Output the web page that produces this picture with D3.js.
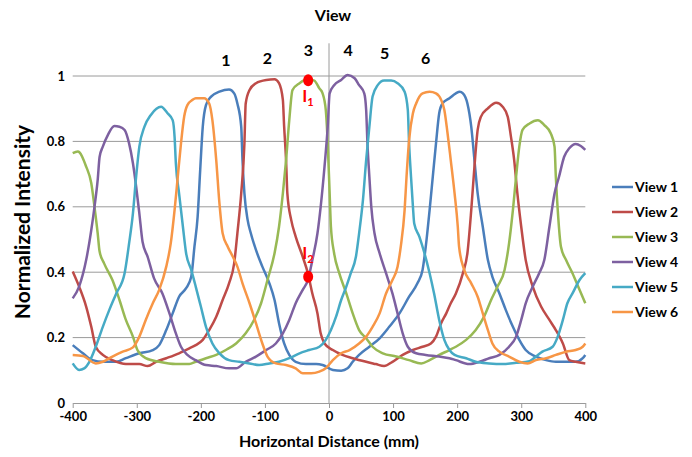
<!DOCTYPE html>
<html>
<head>
<meta charset="utf-8">
<script src="https://cdn.jsdelivr.net/npm/d3@7"></script>
<style>
  body { margin: 0; background: #fff; }
  text { font-family: Lato, 'Open Sans', sans-serif; font-weight: bold; }
</style>
</head>
<body>
<div id="chart"></div>
<script>
// [distance (mm), normalized intensity]
const view1 = [[-400,0.177],[-384,0.152],[-369,0.131],[-353,0.126],[-332,0.126],[-317,0.137],[-296,0.152],[-275,0.162],[-265,0.177],[-254,0.223],[-244,0.274],[-234,0.325],[-223,0.351],[-215,0.386],[-210,0.478],[-205,0.57],[-201,0.713],[-197,0.845],[-192,0.911],[-184,0.937],[-171,0.952],[-156,0.959],[-148,0.947],[-143,0.916],[-137,0.845],[-135,0.743],[-132,0.641],[-127,0.56],[-122,0.519],[-114,0.468],[-104,0.417],[-93,0.366],[-85,0.315],[-78,0.244],[-70,0.182],[-62,0.147],[-52,0.126],[-36,0.119],[-20,0.119],[-10,0.116],[6,0.101],[19,0.099],[29,0.106],[37,0.126],[47,0.147],[63,0.172],[79,0.198],[94,0.233],[110,0.274],[125,0.325],[138,0.366],[146,0.407],[151,0.478],[157,0.59],[162,0.692],[167,0.794],[172,0.886],[177,0.916],[188,0.932],[198,0.947],[204,0.952],[209,0.947],[216,0.916],[222,0.845],[227,0.743],[232,0.641],[240,0.539],[248,0.437],[255,0.386],[266,0.335],[276,0.284],[287,0.233],[297,0.193],[307,0.162],[323,0.142],[339,0.131],[354,0.126],[385,0.126],[396,0.137],[400,0.147]]
const view2 = [[-400,0.402],[-390,0.356],[-379,0.295],[-371,0.233],[-364,0.172],[-353,0.147],[-338,0.131],[-317,0.119],[-296,0.119],[-283,0.113],[-270,0.126],[-254,0.137],[-234,0.152],[-218,0.167],[-208,0.177],[-197,0.193],[-187,0.223],[-176,0.264],[-166,0.315],[-156,0.366],[-148,0.427],[-143,0.519],[-137,0.641],[-132,0.794],[-130,0.916],[-124,0.957],[-114,0.978],[-98,0.988],[-85,0.99],[-78,0.978],[-72,0.927],[-70,0.845],[-67,0.743],[-65,0.641],[-59,0.56],[-52,0.509],[-41,0.447],[-33,0.397],[-26,0.335],[-18,0.274],[-13,0.213],[-7,0.182],[6,0.162],[21,0.147],[37,0.137],[58,0.126],[73,0.119],[86,0.113],[99,0.126],[115,0.147],[131,0.162],[146,0.172],[159,0.182],[167,0.203],[175,0.244],[183,0.274],[190,0.305],[198,0.335],[209,0.397],[216,0.458],[222,0.59],[227,0.723],[232,0.835],[237,0.875],[248,0.901],[261,0.918],[271,0.906],[279,0.875],[284,0.814],[289,0.743],[294,0.641],[300,0.539],[307,0.437],[318,0.356],[331,0.295],[344,0.254],[354,0.223],[365,0.182],[375,0.131],[385,0.126],[400,0.121]]
const view3 = [[-400,0.764],[-392,0.769],[-379,0.723],[-371,0.672],[-366,0.6],[-361,0.519],[-358,0.463],[-351,0.427],[-338,0.376],[-327,0.315],[-317,0.254],[-306,0.203],[-299,0.162],[-286,0.137],[-265,0.126],[-239,0.119],[-218,0.119],[-208,0.126],[-192,0.137],[-176,0.147],[-161,0.162],[-145,0.182],[-130,0.213],[-117,0.254],[-106,0.305],[-96,0.376],[-85,0.458],[-78,0.539],[-72,0.641],[-67,0.743],[-62,0.865],[-57,0.957],[-46,0.978],[-33,0.99],[-23,0.986],[-15,0.962],[-10,0.947],[-5,0.896],[-2,0.794],[1,0.641],[3,0.539],[8,0.458],[16,0.397],[27,0.335],[37,0.274],[47,0.223],[58,0.198],[68,0.172],[84,0.152],[105,0.142],[125,0.131],[144,0.121],[157,0.131],[172,0.147],[188,0.162],[198,0.172],[214,0.193],[229,0.223],[242,0.264],[253,0.315],[263,0.356],[274,0.407],[281,0.488],[287,0.59],[292,0.692],[297,0.784],[302,0.835],[313,0.855],[326,0.865],[336,0.85],[346,0.825],[352,0.784],[354,0.692],[357,0.59],[362,0.478],[370,0.437],[380,0.397],[391,0.346],[400,0.305]]
const view4 = [[-400,0.32],[-390,0.356],[-379,0.437],[-371,0.529],[-366,0.6],[-361,0.682],[-358,0.753],[-353,0.784],[-345,0.82],[-335,0.847],[-327,0.845],[-319,0.835],[-312,0.794],[-306,0.733],[-301,0.662],[-296,0.58],[-291,0.493],[-283,0.447],[-273,0.381],[-260,0.335],[-249,0.274],[-239,0.213],[-231,0.172],[-221,0.147],[-208,0.131],[-192,0.116],[-176,0.113],[-156,0.106],[-145,0.106],[-130,0.126],[-114,0.142],[-98,0.162],[-83,0.182],[-72,0.213],[-62,0.254],[-52,0.305],[-41,0.346],[-33,0.376],[-26,0.437],[-18,0.519],[-13,0.6],[-7,0.723],[-2,0.845],[1,0.947],[8,0.972],[19,0.988],[29,1.003],[40,0.993],[47,0.972],[55,0.947],[58,0.896],[60,0.794],[63,0.692],[66,0.6],[71,0.519],[79,0.458],[89,0.397],[99,0.335],[107,0.274],[115,0.213],[123,0.172],[136,0.152],[151,0.147],[172,0.142],[188,0.137],[198,0.131],[219,0.119],[235,0.126],[250,0.137],[266,0.147],[281,0.172],[292,0.203],[300,0.254],[307,0.305],[318,0.356],[328,0.397],[336,0.437],[344,0.539],[352,0.641],[359,0.692],[367,0.753],[375,0.779],[385,0.792],[393,0.786],[400,0.774]]
const view5 = [[-400,0.121],[-390,0.101],[-382,0.106],[-374,0.126],[-364,0.172],[-353,0.233],[-343,0.284],[-332,0.335],[-319,0.397],[-312,0.488],[-306,0.58],[-301,0.692],[-296,0.784],[-288,0.845],[-278,0.881],[-262,0.906],[-252,0.886],[-244,0.865],[-241,0.814],[-239,0.733],[-234,0.641],[-228,0.539],[-223,0.458],[-215,0.407],[-208,0.356],[-200,0.295],[-192,0.233],[-182,0.182],[-171,0.152],[-156,0.131],[-140,0.126],[-124,0.121],[-109,0.116],[-93,0.121],[-78,0.126],[-62,0.137],[-46,0.152],[-31,0.162],[-15,0.172],[-5,0.193],[3,0.223],[11,0.264],[19,0.315],[27,0.356],[34,0.397],[42,0.447],[47,0.519],[53,0.621],[58,0.743],[63,0.845],[68,0.937],[76,0.972],[86,0.986],[97,0.986],[107,0.978],[118,0.952],[123,0.896],[125,0.794],[128,0.692],[131,0.6],[133,0.549],[141,0.509],[149,0.458],[157,0.397],[164,0.335],[172,0.254],[180,0.193],[188,0.162],[196,0.147],[214,0.137],[229,0.126],[250,0.121],[271,0.119],[292,0.123],[313,0.128],[323,0.142],[333,0.157],[349,0.172],[357,0.203],[365,0.254],[372,0.305],[380,0.335],[391,0.376],[400,0.397]]
const view6 = [[-400,0.147],[-384,0.144],[-364,0.121],[-353,0.126],[-338,0.142],[-322,0.157],[-306,0.17],[-296,0.203],[-286,0.254],[-275,0.305],[-265,0.346],[-254,0.417],[-247,0.488],[-241,0.59],[-236,0.692],[-231,0.794],[-226,0.876],[-221,0.911],[-213,0.927],[-208,0.932],[-195,0.932],[-187,0.916],[-182,0.865],[-176,0.743],[-171,0.611],[-166,0.519],[-158,0.478],[-150,0.447],[-143,0.417],[-135,0.366],[-124,0.305],[-114,0.244],[-104,0.182],[-96,0.142],[-83,0.121],[-67,0.116],[-52,0.106],[-41,0.091],[-28,0.091],[-15,0.096],[-5,0.106],[6,0.131],[19,0.152],[32,0.162],[47,0.182],[58,0.203],[68,0.233],[79,0.274],[89,0.335],[99,0.376],[107,0.417],[112,0.478],[118,0.59],[121,0.692],[125,0.804],[131,0.886],[136,0.916],[146,0.947],[157,0.952],[167,0.947],[175,0.927],[180,0.896],[185,0.825],[190,0.743],[196,0.641],[201,0.539],[203,0.478],[211,0.407],[222,0.366],[232,0.325],[240,0.274],[248,0.223],[255,0.182],[266,0.157],[281,0.142],[297,0.126],[310,0.121],[323,0.131],[339,0.137],[354,0.147],[370,0.157],[385,0.162],[396,0.172],[400,0.182]]

const seriesNames = ['View 1', 'View 2', 'View 3', 'View 4', 'View 5', 'View 6']
const seriesData = [view1, view2, view3, view4, view5, view6]
const colors = ['#4A7EBB', '#BE4B48', '#98B954', '#7D60A0', '#46AAC5', '#F79646']

const xTicks = [-400, -300, -200, -100, 0, 100, 200, 300, 400]
const yTicks = [0, 0.2, 0.4, 0.6, 0.8, 1]

// view numbers written above the peaks: [label, x (mm), y (intensity)]
const peakLabels = [['1', -161, 1.03], ['2', -96, 1.036], ['3', -32, 1.062], ['4', 30, 1.062], ['5', 87, 1.052], ['6', 151, 1.036]]
// marked points: [subscript, x (mm), dot y, label y]
const markers = [['1', -32.5, 0.987, 0.922], ['2', -32.5, 0.386, 0.44]]

const width = 692
const height = 457

const svg = d3
  .select('#chart')
  .append('svg')
  .attr('width', width)
  .attr('height', height)

const x = d3.scaleLinear().domain([-400, 400]).range([72.7, 585.3])
const y = d3.scaleLinear().domain([0, 1.1]).range([403, 43.3])

const gridColor = '#9a9a9a'

// horizontal gridlines
svg
  .selectAll('.grid')
  .data(yTicks.slice(1))
  .enter()
  .append('line')
  .attr('x1', x(-400))
  .attr('x2', x(400))
  .attr('y1', d => y(d))
  .attr('y2', d => y(d))
  .attr('stroke', gridColor)
  .attr('stroke-width', 1)

// vertical axis line crossing at 0
svg
  .append('line')
  .attr('x1', x(0))
  .attr('x2', x(0))
  .attr('y1', y(1.1))
  .attr('y2', y(0))
  .attr('stroke', gridColor)

// x axis
const xAxis = svg
  .append('g')
  .attr('transform', 'translate(0,' + y(0) + ')')
  .call(
    d3
      .axisBottom(x)
      .tickValues(xTicks)
      .tickSize(5)
      .tickSizeOuter(0)
      .tickFormat(d => String(d))
  )
xAxis.select('.domain').attr('stroke', gridColor)
xAxis.selectAll('.tick line').attr('stroke', gridColor)
xAxis
  .selectAll('.tick text')
  .attr('font-size', 13)
  .attr('font-family', 'Lato, sans-serif')
  .attr('font-weight', 'bold')
  .attr('fill', '#000')
  .attr('dy', '0.95em')
  .attr('y', 6)

// y tick labels (axis line sits at 0, labels on the left)
svg
  .selectAll('.ylabel')
  .data(yTicks)
  .enter()
  .append('text')
  .attr('x', 65)
  .attr('y', d => y(d))
  .attr('dy', '0.35em')
  .attr('text-anchor', 'end')
  .attr('font-size', 13)
  .text(d => String(d))

// curves
const line = d3
  .line()
  .x(d => x(d[0]))
  .y(d => y(d[1]))
  .curve(d3.curveMonotoneX)

svg
  .selectAll('.curve')
  .data(seriesData)
  .enter()
  .append('path')
  .attr('d', d => line(d))
  .attr('fill', 'none')
  .attr('stroke', (d, i) => colors[i])
  .attr('stroke-width', 2.5)
  .attr('stroke-linejoin', 'round')

// peak numbers
svg
  .selectAll('.peak')
  .data(peakLabels)
  .enter()
  .append('text')
  .attr('x', d => x(d[1]))
  .attr('y', d => y(d[2]))
  .attr('text-anchor', 'middle')
  .attr('font-size', 16)
  .attr('fill', '#000')
  .text(d => d[0])

// red markers with I1 / I2
markers.forEach(m => {
  svg
    .append('ellipse')
    .attr('cx', x(m[1]))
    .attr('cy', y(m[2]))
    .attr('rx', 5)
    .attr('ry', 6)
    .attr('fill', '#ff0000')

  const t = svg
    .append('text')
    .attr('x', x(m[1]) - 6)
    .attr('y', y(m[3]))
    .attr('font-size', 17)
    .attr('fill', '#ff0000')
  t.append('tspan').text('I')
  t.append('tspan').attr('font-size', 11).attr('dy', 4).text(m[0])
})

// titles
svg
  .append('text')
  .attr('x', 333)
  .attr('y', 21)
  .attr('text-anchor', 'middle')
  .attr('font-size', 16)
  .text('View')

svg
  .append('text')
  .attr('x', 329)
  .attr('y', 447)
  .attr('text-anchor', 'middle')
  .attr('font-size', 16)
  .text('Horizontal Distance (mm)')

svg
  .append('text')
  .attr('transform', 'translate(30,222) rotate(-90)')
  .attr('text-anchor', 'middle')
  .attr('font-size', 21)
  .text('Normalized Intensity')

// legend
const legend = svg
  .selectAll('.legend')
  .data(seriesNames)
  .enter()
  .append('g')
  .attr('transform', (d, i) => 'translate(612,' + (187 + i * 25) + ')')

legend
  .append('line')
  .attr('x1', 0)
  .attr('x2', 21)
  .attr('stroke', (d, i) => colors[i])
  .attr('stroke-width', 2.5)

legend
  .append('text')
  .attr('x', 23)
  .attr('dy', '0.35em')
  .attr('font-size', 14)
  .text(d => d)
</script>
</body>
</html>
